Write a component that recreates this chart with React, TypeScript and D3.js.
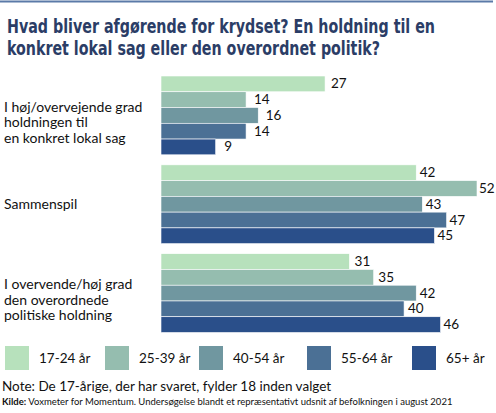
import React from "react";
import * as d3 from "d3";

const TITLE_LINES = [
  "Hvad bliver afgørende for krydset? En holdning til en",
  "konkret lokal sag eller den overordnet politik?",
];
const CATEGORIES = ["lokal", "samspil", "overordnet"];
const CATEGORY_LABELS = [
  ["I høj/overvejende grad", "holdningen til", "en konkret lokal sag"],
  ["Sammenspil"],
  ["I overvende/høj grad", "den overordnede", "politiske holdning"],
];
const SERIES = ["17-24 år", "25-39 år", "40-54 år", "55-64 år", "65+ år"];
const VALUES_17_24 = [27, 42, 31];
const VALUES_25_39 = [14, 52, 35];
const VALUES_40_54 = [16, 43, 42];
const VALUES_55_64 = [14, 47, 40];
const VALUES_65 = [9, 45, 46];
const NOTE = "Note: De 17-årige, der har svaret, fylder 18 inden valget";
const SOURCE_BOLD = "Kilde:";
const SOURCE = " Voxmeter for Momentum. Undersøgelse blandt et repræsentativt udsnit af befolkningen i august 2021";

const COLORS = ["#b7e1bc", "#95bdaf", "#7097a0", "#4b7095", "#2a4f8a"];
const LEGEND_X = [5, 105, 199, 307, 412];
const TITLE_WIDTHS = [428, 373];
const W = 496;
const H = 413;
const BODY_FONT = "Lato, 'Open Sans', sans-serif";

export default function App() {
  const seriesValues = [VALUES_17_24, VALUES_25_39, VALUES_40_54, VALUES_55_64, VALUES_65];
  const x = d3.scaleLinear().domain([0, 52]).range([161, 477]);
  const xLabel = d3.scaleLinear().domain([0, 52]).range([171, 479]);
  const y0 = d3.scaleBand<string>().domain(CATEGORIES).range([76, 332.5]).paddingInner(0.113);
  const y1 = d3.scaleBand<string>().domain(SERIES).range([0, y0.bandwidth()]).padding(0);

  return (
    <div style={{ position: "fixed", left: 0, top: 0, width: W, height: H, background: "#fff" }}>
      <svg width={W} height={H} style={{ display: "block" }}>
        <rect x={0} y={0} width={W} height={H} fill="#fff" />
        <line x1={0} x2={493} y1={1.5} y2={1.5} stroke="#5b7aa8" strokeWidth={2} />
        {TITLE_LINES.map((t, i) => (
          <text
            key={i}
            x={7}
            y={32.5 + i * 22.5}
            fontFamily="'DejaVu Sans Condensed', 'DejaVu Sans', sans-serif"
            fontWeight="bold"
            fontSize={19.5}
            fill="#2b3d66"
            textLength={TITLE_WIDTHS[i]}
            lengthAdjust="spacingAndGlyphs"
          >
            {t}
          </text>
        ))}
        {CATEGORIES.map((c, ci) => {
          const top = y0(c)!;
          const center = top + y0.bandwidth() / 2;
          const lines = CATEGORY_LABELS[ci];
          const n = lines.length;
          return (
            <g key={c}>
              {lines.map((l, li) => (
                <text
                  key={li}
                  x={4}
                  y={center + 5 + (n - 1) * 3.3 + (li - (n - 1) / 2) * 15.5}
                  fontFamily={BODY_FONT}
                  fontSize={14}
                  fill="#111"
                >
                  {l}
                </text>
              ))}
              {SERIES.map((s, si) => {
                const v = seriesValues[si][ci];
                const by = top + y1(s)!;
                return (
                  <g key={s}>
                    <rect
                      x={x(0)}
                      y={by}
                      width={x(v) - x(0)}
                      height={y1.bandwidth()}
                      fill={COLORS[si]}
                      stroke="#ffffff"
                      strokeWidth={0.6}
                    />
                    <text
                      x={xLabel(v)}
                      y={by + y1.bandwidth() / 2 + 4.5}
                      fontFamily={BODY_FONT}
                      fontSize={13.5}
                      fill="#111"
                    >
                      {v}
                    </text>
                  </g>
                );
              })}
            </g>
          );
        })}
        {SERIES.map((s, si) => (
          <g key={s}>
            <rect x={LEGEND_X[si]} y={346} width={24} height={24} fill={COLORS[si]} />
            <text x={LEGEND_X[si] + 34} y={363} fontFamily={BODY_FONT} fontSize={13.5} fill="#111">
              {s}
            </text>
          </g>
        ))}
        <text x={2} y={391} fontFamily={BODY_FONT} fontSize={13.5} fill="#111">
          {NOTE}
        </text>
        <text x={2} y={405} fontFamily={BODY_FONT} fontSize={9.5} fill="#111">
          <tspan fontWeight="bold">{SOURCE_BOLD}</tspan>
          <tspan>{SOURCE}</tspan>
        </text>
      </svg>
    </div>
  );
}
